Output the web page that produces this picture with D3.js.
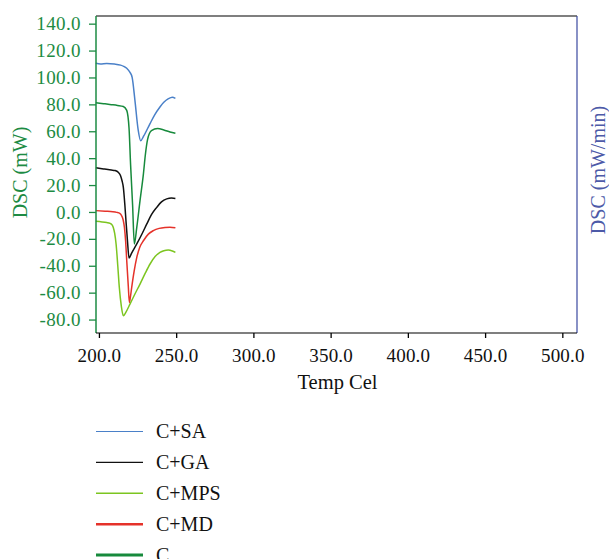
<!DOCTYPE html>
<html>
<head>
<meta charset="utf-8">
<title>DSC curves</title>
<script type="text/javascript" src="https://cdn.jsdelivr.net/npm/d3@7/dist/d3.min.js"></script>
<style>
body { margin:0; background:#fff; }
text { font-family:"Liberation Serif","Times New Roman",serif; }
</style>
</head>
<body>
<div id="chart"></div>

<script>
// temperatures (Cel) and DSC values (mW)
var saT = [198, 201, 205, 210, 214, 216, 218, 220, 221.5, 223.3, 225.4, 227, 229, 233, 236, 239.5, 242, 245, 247.5, 249.5];
var saV = [110.5, 110, 110.4, 110, 109.2, 108.3, 106.8, 104, 100, 83, 61, 53, 56.5, 65.5, 72, 78, 81.5, 84.2, 85.3, 84.5];

var gaT = [198, 203, 208, 210.4, 212.5, 214, 215, 215.8, 216.8, 217.5, 218.5, 219.5, 221, 224.5, 228, 231, 234, 237.4, 240.5, 243.9, 247, 249.5];
var gaV = [32.8, 32, 31.2, 30.8, 29.5, 27, 23, 18.3, 5, -6.5, -22, -34.3, -31, -23.8, -16, -8.9, -2, 3.4, 7.5, 9.7, 10.3, 10];

var mpsT = [198, 202, 205, 207.2, 208.5, 209.3, 210.2, 211.1, 212.2, 213.2, 214.5, 215.8, 217.5, 220.1, 223.3, 226.6, 230, 233.1, 236.5, 239.5, 242, 244.9, 247.5, 249.5];
var mpsV = [-7, -7.4, -7.9, -8.5, -9.6, -11.5, -16, -23.8, -40, -56.2, -70, -77.2, -74.5, -68.5, -61, -53.6, -45.5, -38.7, -33, -30.1, -28.8, -28.3, -29, -30.1];

var mdT = [198, 204, 209, 211.5, 213.5, 214.7, 215.7, 216.5, 217.3, 218, 219, 219.7, 220.4, 221.2, 222.8, 224.5, 226.5, 228.8, 232, 235.2, 239, 242.8, 246, 249.5];
var mdV = [1, 0.6, 0.2, -0.3, -1, -2.8, -6, -11.5, -22, -36.3, -55, -67.3, -63, -56.2, -44, -33.8, -26, -21.4, -16.5, -13.9, -12.2, -11.5, -11.3, -11.8];

var cT = [198, 203, 208, 212, 215.8, 218, 219.5, 220.5, 221.8, 222.9, 224.5, 226.6, 228.8, 230, 231.5, 234, 238, 242, 246, 249.5];
var cV = [81.2, 80.5, 79.8, 79.2, 78.4, 75.5, 62, 35, 5, -23.8, -11.5, 8.4, 28.3, 42, 54, 60.5, 62, 61, 59.5, 58.5];

var seriesNames = ["C+SA", "C+GA", "C+MPS", "C+MD", "C"];
var seriesColors = ["#4a80c8", "#111111", "#7cc520", "#e5322a", "#178a3c"];
var legendWidths = [1.2, 1.4, 1.4, 2.6, 3];

var xTicks = [200, 250, 300, 350, 400, 450, 500];
var yTicks = [-80, -60, -40, -20, 0, 20, 40, 60, 80, 100, 120, 140];

var series = [
	{ t: saT, v: saV },
	{ t: gaT, v: gaV },
	{ t: mpsT, v: mpsV },
	{ t: mdT, v: mdV },
	{ t: cT, v: cV }
];

var W = 609, H = 559;
var padL = 96, padR = 577, padT = 16, padB = 333;
var axisGreen = "#1d8b43";

var svg = d3.select("#chart").append("svg")
	.attr("width", W).attr("height", H);

var x = d3.scaleLinear().domain([198.1, 509.5]).range([padL, padR]);
var y = d3.scaleLinear().domain([-90, 145.7]).range([padB, padT]);

var line = d3.line()
	.x(function(d){ return x(d[0]); })
	.y(function(d){ return y(d[1]); })
	.curve(d3.curveMonotoneX);

// curves, drawn back to front
for(var i=series.length-1; i>=0; i--){
	var pts = series[i].t.map(function(t, j){ return [t, series[i].v[j]]; });
	svg.append("path")
		.attr("d", line(pts))
		.attr("fill", "none")
		.attr("stroke", seriesColors[i])
		.attr("stroke-width", 1.5);
}

// frame
svg.append("line").attr("x1", padL).attr("x2", padR).attr("y1", padT).attr("y2", padT)
	.attr("stroke", "#000").attr("stroke-width", 1.2);
svg.append("line").attr("x1", padR).attr("x2", padR).attr("y1", padT).attr("y2", padB)
	.attr("stroke", "#3a48a0").attr("stroke-width", 1.2);

var fmt = function(d){ return d.toFixed(1); };

var yAxis = svg.append("g")
	.attr("transform", "translate(" + padL + ",0)")
	.call(d3.axisLeft(y).tickValues(yTicks).tickFormat(fmt).tickSize(7).tickPadding(8));
yAxis.select(".domain").attr("stroke", axisGreen).attr("stroke-width", 1.5)
	.attr("d", "M0," + padT + "V" + padB);
yAxis.selectAll(".tick line").attr("stroke", axisGreen).attr("stroke-width", 1.3);
yAxis.selectAll(".tick text").attr("fill", axisGreen)
	.style("font-size", "19px").style("letter-spacing", "0.4px")
	.style("font-family", "'Liberation Serif', serif");

var xAxis = svg.append("g")
	.attr("transform", "translate(0," + padB + ")")
	.call(d3.axisBottom(x).tickValues(xTicks).tickFormat(fmt).tickSize(5).tickPadding(11));
xAxis.select(".domain").attr("stroke", "#000").attr("stroke-width", 1.2)
	.attr("d", "M" + padL + ",0H" + padR);
xAxis.selectAll(".tick line").attr("stroke", "#000").attr("stroke-width", 1.3);
xAxis.selectAll(".tick text").attr("fill", "#111")
	.style("font-size", "19px").style("letter-spacing", "0.2px")
	.style("font-family", "'Liberation Serif', serif");

// axis titles
svg.append("text")
	.attr("x", (padL + padR) / 2 + 1).attr("y", 389)
	.attr("text-anchor", "middle")
	.style("font-size", "20.5px")
	.attr("fill", "#111")
	.text("Temp Cel");

svg.append("text")
	.attr("transform", "translate(27,172.5) rotate(-90)")
	.attr("text-anchor", "middle")
	.style("font-size", "20px")
	.attr("fill", axisGreen)
	.text("DSC (mW)");

svg.append("text")
	.attr("transform", "translate(605,170) rotate(-90)")
	.attr("text-anchor", "middle")
	.style("font-size", "20px")
	.attr("fill", "#4d5aa8")
	.text("DSC (mW/min)");

// legend
var legend = svg.append("g");
var rows = legend.selectAll("g").data(seriesNames).enter().append("g")
	.attr("transform", function(d, i){ return "translate(96," + (431.5 + i * 30.9) + ")"; });
rows.append("line")
	.attr("x1", 0).attr("x2", 47)
	.attr("stroke", function(d, i){ return seriesColors[i]; })
	.attr("stroke-width", function(d, i){ return legendWidths[i]; });
rows.append("text")
	.attr("x", 60).attr("dy", "0.33em")
	.style("font-size", "20px")
	.attr("fill", "#111")
	.text(function(d){ return d; });
</script>
</body>
</html>
